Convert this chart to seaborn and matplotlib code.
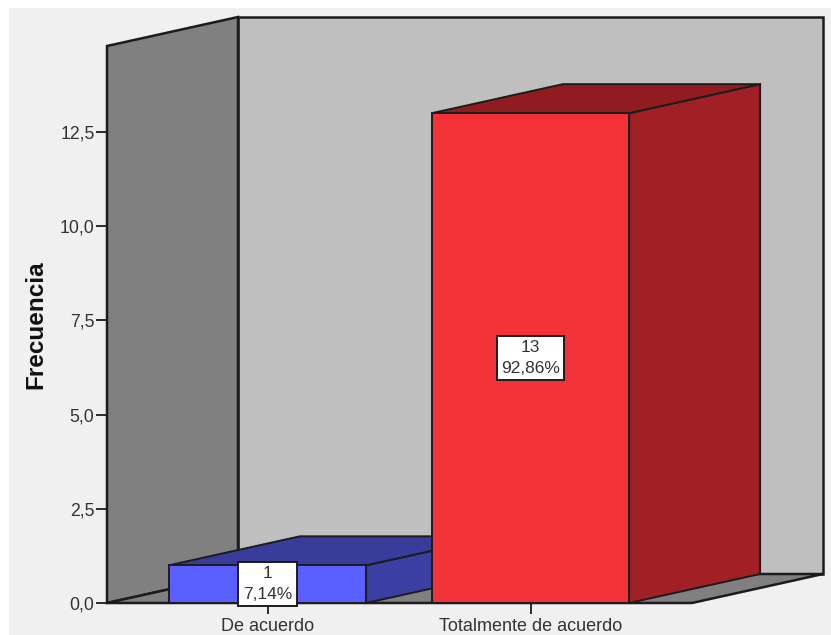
"""Frecuencia por respuesta, barras con falso 3D al estilo SPSS"""
import matplotlib
matplotlib.use("Agg")
import matplotlib.pyplot as plt
import pandas as pd
import seaborn as sns
from matplotlib.patches import Rectangle

categorias = ["De acuerdo", "Totalmente de acuerdo"]
frecuencias = [1, 13]
porcentajes = ["7,14%", "92,86%"]
y_ticks = [0.0, 2.5, 5.0, 7.5, 10.0, 12.5]
y_labels = ["0,0", "2,5", "5,0", "7,5", "10,0", "12,5"]

W, H = 831, 635
LINE = "#1c1c1c"
TXT = "#333333"
FRONT = ["#5a60ff", "#f33139"]
SIDE = ["#3b3fa3", "#a02025"]
TOP = ["#383c9b", "#911c20"]

sns.set_theme(style="white")
plt.rcParams["font.family"] = ["Liberation Sans", "DejaVu Sans"]

fig = plt.figure(figsize=(W / 100, H / 100), dpi=100, facecolor="white")
fig.add_artist(Rectangle((9 / W, 0), 1, 1 - 8 / H, transform=fig.transFigure,
                         facecolor="#f0f0f0", edgecolor="none", zorder=-5))
ax = fig.add_axes([107 / W, 1 - 603 / H, (692 - 107) / W, (603 - 46) / H])
ax.patch.set_visible(False)

df = pd.DataFrame({"categoria": categorias, "frecuencia": frecuencias})
sns.barplot(data=df, x="categoria", y="frecuencia", hue="categoria", palette=FRONT,
            width=0.75, saturation=1, legend=False, edgecolor=LINE, linewidth=1.4,
            zorder=5, ax=ax)

x0, x1 = (107 - 267.5) / 263, (692 - 267.5) / 263
y1 = (603 - 46) / 37.68
ax.set_xlim(x0, x1)
ax.set_ylim(0, y1)

# profundidad del falso 3D, en unidades de datos
dx, dy = 131 / 263, 29 / 37.68


def poly(xs, ys, color, z, lw=1.4):
    ax.fill(xs, ys, facecolor=color, edgecolor=LINE, linewidth=lw, zorder=z,
            clip_on=False, joinstyle="miter")


# paredes y suelo
poly([x0 + dx, x1 + dx, x1 + dx, x0 + dx], [dy, dy, y1 + dy, y1 + dy], "#bfbfbf", 1, lw=1.8)
poly([x0, x0 + dx, x0 + dx, x0], [0, dy, y1 + dy, y1], "#808080", 2, lw=1.8)
poly([x0, x0 + dx, x1 + dx, x1], [0, dy, dy, 0], "#808080", 2, lw=1.8)

# caras lateral y superior de cada barra
for i, bar in enumerate(ax.patches[:len(frecuencias)]):
    left, right = bar.get_x(), bar.get_x() + bar.get_width()
    h = bar.get_height()
    z = 3 + i * 3
    bar.set_zorder(z + 1)
    poly([right, right + dx, right + dx, right], [0, dy, h + dy, h], SIDE[i], z)
    poly([left, left + dx, right + dx, right], [h, h + dy, h + dy, h], TOP[i], z)
    ax.text(i, h / 2, f"{frecuencias[i]}\n{porcentajes[i]}", ha="center", va="center",
            fontsize=12.5, color=TXT, linespacing=1.45, zorder=20, clip_on=False,
            bbox=dict(boxstyle="square,pad=0.26", facecolor="white", edgecolor=LINE, linewidth=1.4))

sns.despine(ax=ax, left=True, bottom=True)
ax.set_yticks(y_ticks, y_labels)
ax.tick_params(axis="y", length=8, width=1.3, color=LINE, labelsize=12.7, labelcolor=TXT, pad=1, left=True)
ax.tick_params(axis="x", length=8, width=1.3, color=LINE, labelsize=13, labelcolor=TXT, pad=2.5, bottom=True)
ax.set_xlabel("")
ax.set_ylabel("Frecuencia", fontsize=17.5, fontweight="bold", color="#111111", labelpad=9)

fig.savefig("out.png", dpi=100)
